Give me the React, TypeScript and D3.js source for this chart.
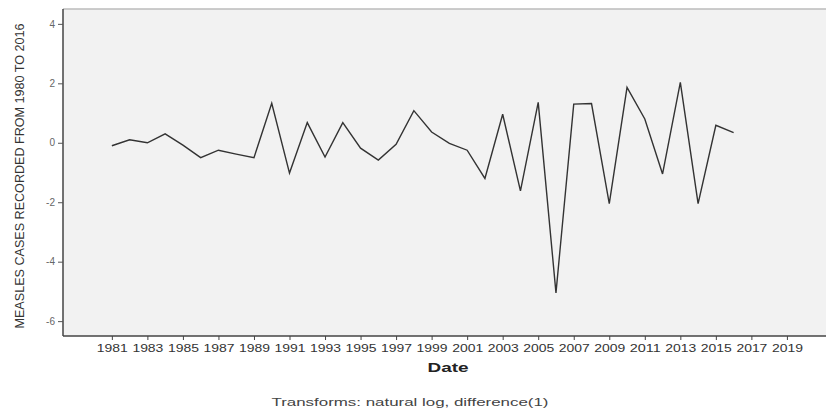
import React, { useRef, useEffect } from "react";
import { select, scaleLinear, axisBottom, axisLeft, line } from "d3";

// differenced log of measles cases, one point per year
const years = [
  1981, 1982, 1983, 1984, 1985, 1986, 1987, 1988, 1989, 1990, 1991, 1992,
  1993, 1994, 1995, 1996, 1997, 1998, 1999, 2000, 2001, 2002, 2003, 2004,
  2005, 2006, 2007, 2008, 2009, 2010, 2011, 2012, 2013, 2014, 2015, 2016,
];
const values = [
  -0.1, 0.1, 0.0, 0.3, -0.08, -0.5, -0.25, -0.38, -0.5, 1.33, -1.02, 0.68,
  -0.48, 0.68, -0.18, -0.58, -0.05, 1.08, 0.36, -0.02, -0.25, -1.2, 0.96, -1.62,
  1.36, -5.05, 1.3, 1.32, -2.05, 1.86, 0.8, -1.05, 2.03, -2.05, 0.59, 0.34,
];
const xTicks = [
  1981, 1983, 1985, 1987, 1989, 1991, 1993, 1995, 1997, 1999, 2001, 2003,
  2005, 2007, 2009, 2011, 2013, 2015, 2017, 2019,
];
const yTicks = [-6, -4, -2, 0, 2, 4];

const W = 826;
const H = 410;
const plot = { left: 63, right: 826, top: 9, bottom: 336 };

function App() {
  const svgRef = useRef<SVGSVGElement>(null);

  useEffect(() => {
    const svg = select(svgRef.current);

    const xScale = scaleLinear()
      .domain([1978.25, 2021.2])
      .range([plot.left, plot.right]);
    const yScale = scaleLinear()
      .domain([-6.5, 4.5])
      .range([plot.bottom, plot.top]);

    // x axis
    const xAxis = axisBottom(xScale)
      .tickValues(xTicks)
      .tickFormat((d) => String(d))
      .tickSizeInner(4)
      .tickSizeOuter(0);
    const gx = svg
      .select<SVGGElement>(".x-axis")
      .attr("transform", `translate(0,${plot.bottom})`)
      .call(xAxis);
    gx.select(".domain").remove();
    gx.selectAll(".tick line").attr("stroke", "#444");
    gx.selectAll<SVGTextElement, number>(".tick text")
      .attr("y", 8)
      .attr("font-family", "Liberation Sans, Arial, sans-serif")
      .attr("font-size", 11)
      .attr("fill", "#333")
      .attr("textLength", 31)
      .attr("lengthAdjust", "spacingAndGlyphs");

    // y axis
    const yAxis = axisLeft(yScale)
      .tickValues(yTicks)
      .tickFormat((d) => String(d))
      .tickSizeInner(5)
      .tickSizeOuter(0);
    const gy = svg
      .select<SVGGElement>(".y-axis")
      .attr("transform", `translate(${plot.left},0)`)
      .call(yAxis);
    gy.select(".domain").remove();
    gy.selectAll(".tick line").attr("stroke", "#555");
    gy.selectAll(".tick text")
      .attr("x", -8)
      .attr("font-family", "Liberation Sans, Arial, sans-serif")
      .attr("font-size", 10)
      .attr("fill", "#666");

    // series line
    const pts = years.map((y, i) => [y, values[i]] as [number, number]);
    const path = line<[number, number]>()
      .x((d) => xScale(d[0]))
      .y((d) => yScale(d[1]));
    svg
      .select(".series")
      .selectAll("path")
      .data([pts])
      .join("path")
      .attr("d", path)
      .attr("fill", "none")
      .attr("stroke", "#333")
      .attr("stroke-width", 1.4)
      .attr("stroke-linejoin", "miter");
  }, []);

  return (
    <svg
      ref={svgRef}
      width={W}
      height={H}
      style={{ position: "absolute", left: 0, top: 0, background: "#fff" }}
    >
      <rect
        x={plot.left}
        y={plot.top}
        width={plot.right - plot.left}
        height={plot.bottom - plot.top}
        fill="#f2f2f2"
      />
      <line x1={plot.left} x2={plot.right} y1={plot.top} y2={plot.top} stroke="#bbb" strokeWidth={1.5} />
      <line x1={plot.left} x2={plot.left} y1={plot.top} y2={plot.bottom} stroke="#444" strokeWidth={1.5} />
      <line x1={plot.left} x2={plot.right} y1={plot.bottom} y2={plot.bottom} stroke="#444" strokeWidth={1.5} />
      <g className="series" />
      <g className="x-axis" />
      <g className="y-axis" />
      <text
        transform="translate(24,176) rotate(-90)"
        textAnchor="middle"
        fontFamily="Liberation Sans Narrow, Liberation Sans, Arial, sans-serif"
        fontSize={13.5}
        fill="#333"
        textLength={305}
        lengthAdjust="spacingAndGlyphs"
      >
        MEASLES CASES RECORDED FROM 1980 TO 2016
      </text>
      <text
        x={448}
        y={372}
        textAnchor="middle"
        fontFamily="Liberation Sans, Arial, sans-serif"
        fontSize={12.5}
        fontWeight="bold"
        fill="#222"
        textLength={41}
        lengthAdjust="spacingAndGlyphs"
      >
        Date
      </text>
      <text
        x={410}
        y={406}
        textAnchor="middle"
        fontFamily="Liberation Sans, Arial, sans-serif"
        fontSize={10}
        fill="#444"
        textLength={277}
        lengthAdjust="spacingAndGlyphs"
      >
        Transforms: natural log, difference(1)
      </text>
    </svg>
  );
}

export default App;
